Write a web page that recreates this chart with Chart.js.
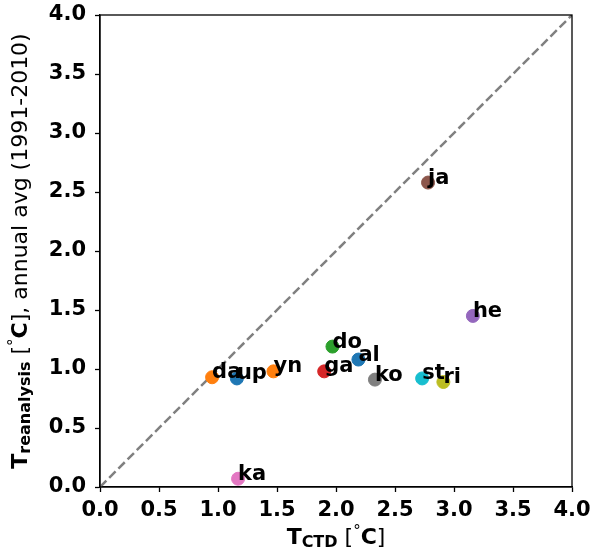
<!DOCTYPE html>
<html>
<head>
<meta charset="utf-8">
<title>T reanalysis vs T CTD</title>
<script src="https://cdn.jsdelivr.net/npm/chart.js@4.4.1/dist/chart.umd.min.js"></script>
<style>
    html, body { margin: 0; padding: 0; background: #fff; }
    #scatterChart { display: block; }
</style>
</head>
<body>
<canvas id="scatterChart" width="593" height="555"></canvas>
<script>
// datos
const stations = ["al", "da", "do", "ga", "he", "ja", "ka", "ko", "ri", "st", "up", "yn"];
const tCTD = [2.19, 0.95, 1.97, 1.90, 3.16, 2.78, 1.17, 2.33, 2.91, 2.73, 1.16, 1.47];
const tReanalysis = [1.08, 0.93, 1.19, 0.98, 1.45, 2.58, 0.07, 0.91, 0.89, 0.92, 0.92, 0.98];
const tab10 = ["#1f77b4", "#ff7f0e", "#2ca02c", "#d62728", "#9467bd",
               "#8c564b", "#e377c2", "#7f7f7f", "#bcbd22", "#17becf"];
const oneToOne = [0, 4];   // linea 1:1
const axisMin = 0;
const axisMax = 4;
const tickStep = 0.5;

document.addEventListener("DOMContentLoaded", function() {

    const fontFamily = "'DejaVu Sans', sans-serif";

    const points = stations.map((s, i) => ({ x: tCTD[i], y: tReanalysis[i] }));
    const colors = stations.map((s, i) => tab10[i % tab10.length]);

    // dibuja varios trozos de texto seguidos (para subindices)
    function drawRuns(ctx, runs, cx, cy) {
        let total = 0;
        runs.forEach(r => {
            ctx.font = r.font;
            r.w = ctx.measureText(r.text).width;
            total += r.w;
        });
        let x = cx - total / 2;
        runs.forEach(r => {
            ctx.font = r.font;
            ctx.fillText(r.text, x, cy + (r.dy || 0));
            x += r.w;
        });
    }

    const extras = {
        id: "extras",
        afterDatasetsDraw: function(chart) {
            const ctx = chart.ctx;
            const area = chart.chartArea;
            const xs = chart.scales.x;
            const ys = chart.scales.y;

            ctx.save();
            // etiquetas de las estaciones
            ctx.fillStyle = "#000";
            ctx.font = "bold 21px " + fontFamily;
            ctx.textAlign = "left";
            ctx.textBaseline = "alphabetic";
            stations.forEach((s, i) => {
                ctx.fillText(s, xs.getPixelForValue(tCTD[i]), ys.getPixelForValue(tReanalysis[i]) + 1);
            });

            // marco completo
            ctx.strokeStyle = "#000";
            ctx.lineWidth = 1.3;
            ctx.strokeRect(area.left, area.top, area.right - area.left, area.bottom - area.top);

            // titulo eje x
            const bold = s => "bold " + s + "px " + fontFamily;
            const norm = s => s + "px " + fontFamily;
            ctx.textBaseline = "alphabetic";
            drawRuns(ctx, [
                { text: "T", font: bold(22) },
                { text: "CTD", font: bold(16), dy: 3 },
                { text: " [", font: norm(22) },
                { text: "°", font: norm(15), dy: -8 },
                { text: "C", font: bold(22) },
                { text: "]", font: norm(22) }
            ], (area.left + area.right) / 2, 544);

            // titulo eje y (rotado)
            ctx.translate(27, (area.top + area.bottom) / 2);
            ctx.rotate(-Math.PI / 2);
            drawRuns(ctx, [
                { text: "T", font: bold(22) },
                { text: "reanalysis", font: bold(16), dy: 3 },
                { text: " [", font: norm(22) },
                { text: "°", font: norm(15), dy: -8 },
                { text: "C", font: bold(22) },
                { text: "], annual avg (1991-2010)", font: norm(22) }
            ], 0, 0);
            ctx.restore();
        }
    };

    function makeAxis(pad) {
        return {
            type: "linear",
            min: axisMin,
            max: axisMax,
            grid: {
                drawOnChartArea: false,
                drawTicks: true,
                tickLength: 5,
                tickWidth: 1.3,
                tickColor: "#000"
            },
            border: { display: true, color: "#000", width: 1.3 },
            ticks: {
                stepSize: tickStep,
                color: "#000",
                padding: pad,
                font: { family: fontFamily, size: 21, weight: "bold" },
                callback: v => Number(v).toFixed(1)
            }
        };
    }

    const ctx = document.getElementById("scatterChart").getContext("2d");

    new Chart(ctx, {
        type: "scatter",
        data: {
            datasets: [{
                label: "stations",
                data: points,
                backgroundColor: colors,
                borderColor: colors,
                pointRadius: 6.5,
                pointHoverRadius: 6.5,
                order: 0
            }, {
                label: "1:1",
                type: "line",
                data: oneToOne.map(v => ({ x: v, y: v })),
                borderColor: "#808080",
                borderWidth: 2.5,
                borderDash: [9, 4],
                pointRadius: 0,
                fill: false,
                order: 1
            }]
        },
        options: {
            responsive: false,
            animation: false,
            layout: { padding: { top: 15, right: 21, left: 0, bottom: 0 } },
            plugins: {
                legend: { display: false },
                tooltip: { enabled: false }
            },
            scales: {
                x: Object.assign(makeAxis(6), {
                    position: "bottom",
                    afterFit: function(scale) {
                        scale.height = 68;
                        scale.paddingLeft = 0;
                        scale.paddingRight = 0;
                    }
                }),
                y: Object.assign(makeAxis(9), {
                    position: "left",
                    afterFit: function(scale) {
                        scale.width = 100;
                        scale.paddingTop = 0;
                        scale.paddingBottom = 0;
                    }
                })
            }
        },
        plugins: [extras]
    });
});
</script>
</body>
</html>
